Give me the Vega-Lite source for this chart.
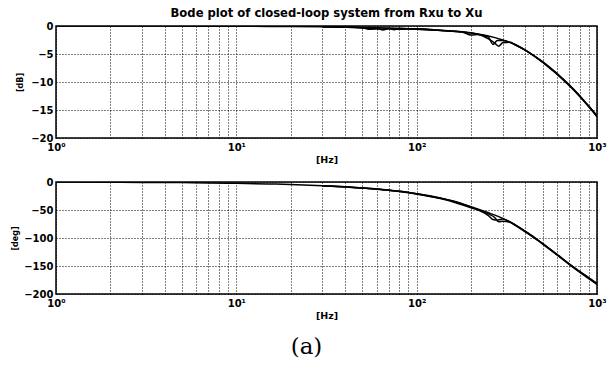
{
  "$schema": "https://vega.github.io/schema/vega-lite/v6.json",
  "background": "white",
  "padding": {"left": 10, "top": 7, "right": 8, "bottom": 2},
  "config": {
    "font": "DejaVu Sans",
    "view": {"stroke": "black", "strokeWidth": 1.5},
    "axis": {
      "labelFont": "DejaVu Sans", "labelFontSize": 10, "labelFontWeight": "bold", "labelColor": "black",
      "titleFont": "DejaVu Sans", "titleFontSize": 9, "titleFontWeight": "bold", "titleColor": "black",
      "grid": true, "gridColor": "black", "gridDash": [1, 2], "gridWidth": 1, "gridOpacity": 1,
      "ticks": false, "domain": false, "labelFlush": false, "labelOverlap": false
    },
    "title": {"font": "DejaVu Sans", "color": "black"}
  },
  "datasets": {
    "bode": [
      {"f": 1, "run": "A", "db": 0, "deg": -0.2},
      {"f": 2, "run": "A", "db": 0, "deg": -0.5},
      {"f": 3, "run": "A", "db": 0, "deg": -0.7},
      {"f": 5, "run": "A", "db": -0.02, "deg": -1.1},
      {"f": 7, "run": "A", "db": -0.03, "deg": -1.6},
      {"f": 10, "run": "A", "db": -0.05, "deg": -2.3},
      {"f": 15, "run": "A", "db": -0.08, "deg": -3.4},
      {"f": 20, "run": "A", "db": -0.1, "deg": -4.5},
      {"f": 30, "run": "A", "db": -0.15, "deg": -6.5},
      {"f": 40, "run": "A", "db": -0.2, "deg": -8.5},
      {"f": 50, "run": "A", "db": -0.25, "deg": -10.5},
      {"f": 60, "run": "A", "db": -0.3, "deg": -12.5},
      {"f": 70, "run": "A", "db": -0.35, "deg": -14.5},
      {"f": 80, "run": "A", "db": -0.42, "deg": -16.5},
      {"f": 100, "run": "A", "db": -0.55, "deg": -21},
      {"f": 120, "run": "A", "db": -0.65, "deg": -25},
      {"f": 150, "run": "A", "db": -0.85, "deg": -32},
      {"f": 200, "run": "A", "db": -1.25, "deg": -44},
      {"f": 250, "run": "A", "db": -1.8, "deg": -55},
      {"f": 300, "run": "A", "db": -2.5, "deg": -65},
      {"f": 350, "run": "A", "db": -3.3, "deg": -76},
      {"f": 400, "run": "A", "db": -4.3, "deg": -88},
      {"f": 450, "run": "A", "db": -5.4, "deg": -99},
      {"f": 500, "run": "A", "db": -6.4, "deg": -110},
      {"f": 600, "run": "A", "db": -8.5, "deg": -129},
      {"f": 700, "run": "A", "db": -10.5, "deg": -146},
      {"f": 800, "run": "A", "db": -12.4, "deg": -160},
      {"f": 900, "run": "A", "db": -14.3, "deg": -171},
      {"f": 1000, "run": "A", "db": -16.1, "deg": -182},
      {"f": 30, "run": "B", "db": -0.15, "deg": -6.5},
      {"f": 40, "run": "B", "db": -0.2, "deg": -8.5},
      {"f": 50, "run": "B", "db": -0.3, "deg": -10.5},
      {"f": 55, "run": "B", "db": -0.6, "deg": -11.5},
      {"f": 60, "run": "B", "db": -0.4, "deg": -12.5},
      {"f": 65, "run": "B", "db": -0.7, "deg": -13.8},
      {"f": 70, "run": "B", "db": -0.45, "deg": -14.5},
      {"f": 75, "run": "B", "db": -0.65, "deg": -15.8},
      {"f": 80, "run": "B", "db": -0.45, "deg": -16.5},
      {"f": 100, "run": "B", "db": -0.6, "deg": -21},
      {"f": 130, "run": "B", "db": -0.75, "deg": -28},
      {"f": 150, "run": "B", "db": -0.9, "deg": -32},
      {"f": 180, "run": "B", "db": -1.1, "deg": -39},
      {"f": 200, "run": "B", "db": -1.6, "deg": -45},
      {"f": 220, "run": "B", "db": -1.5, "deg": -50},
      {"f": 250, "run": "B", "db": -2.0, "deg": -60},
      {"f": 265, "run": "B", "db": -3.3, "deg": -67},
      {"f": 280, "run": "B", "db": -2.6, "deg": -68},
      {"f": 300, "run": "B", "db": -2.6, "deg": -66},
      {"f": 350, "run": "B", "db": -3.3, "deg": -77},
      {"f": 400, "run": "B", "db": -4.3, "deg": -89},
      {"f": 500, "run": "B", "db": -6.4, "deg": -110},
      {"f": 700, "run": "B", "db": -10.5, "deg": -147},
      {"f": 1000, "run": "B", "db": -16.2, "deg": -183},
      {"f": 30, "run": "C", "db": -0.15, "deg": -6.5},
      {"f": 50, "run": "C", "db": -0.35, "deg": -10.8},
      {"f": 60, "run": "C", "db": -0.55, "deg": -12.8},
      {"f": 70, "run": "C", "db": -0.5, "deg": -14.8},
      {"f": 80, "run": "C", "db": -0.6, "deg": -16.8},
      {"f": 100, "run": "C", "db": -0.5, "deg": -21.5},
      {"f": 150, "run": "C", "db": -0.9, "deg": -33},
      {"f": 200, "run": "C", "db": -1.2, "deg": -46},
      {"f": 230, "run": "C", "db": -1.7, "deg": -52},
      {"f": 250, "run": "C", "db": -2.3, "deg": -57},
      {"f": 270, "run": "C", "db": -3.0, "deg": -63},
      {"f": 285, "run": "C", "db": -3.6, "deg": -71},
      {"f": 300, "run": "C", "db": -3.0, "deg": -70},
      {"f": 330, "run": "C", "db": -2.9, "deg": -72},
      {"f": 350, "run": "C", "db": -3.3, "deg": -76},
      {"f": 400, "run": "C", "db": -4.3, "deg": -88},
      {"f": 500, "run": "C", "db": -6.5, "deg": -111},
      {"f": 700, "run": "C", "db": -10.6, "deg": -146},
      {"f": 1000, "run": "C", "db": -16.0, "deg": -181}
    ]
  },
  "bounds": "flush",
  "spacing": 44,
  "vconcat": [
    {
      "width": 541, "height": 112,
      "data": {"name": "bode"},
      "title": {"text": "Bode plot of closed-loop system from Rxu to Xu", "fontSize": 11.6, "fontWeight": "bold", "offset": 1},
      "mark": {"type": "line", "color": "black", "strokeWidth": 1.5, "interpolate": "monotone", "clip": true},
      "encoding": {
        "x": {"field": "f", "type": "quantitative", "scale": {"type": "log", "domain": [1, 1000], "nice": false},
          "axis": {"title": "[Hz]", "titleFontSize": 9.5, "titlePadding": 2, "labelPadding": 4,
            "values": [1,2,3,4,5,6,7,8,9,10,20,30,40,50,60,70,80,90,100,200,300,400,500,600,700,800,900,1000],
            "labelExpr": "datum.value == 1 ? '10⁰' : datum.value == 10 ? '10¹' : datum.value == 100 ? '10²' : datum.value == 1000 ? '10³' : ''"}},
        "y": {"field": "db", "type": "quantitative", "scale": {"domain": [-20, 0], "nice": false},
          "axis": {"title": "[dB]", "titleFontSize": 8, "values": [0, -5, -10, -15, -20], "labelPadding": 3, "titlePadding": 6}},
        "detail": {"field": "run"}
      }
    },
    {
      "width": 541, "height": 112,
      "data": {"name": "bode"},
      "title": {"text": "(a)", "orient": "bottom", "font": "DejaVu Serif", "fontSize": 23, "fontWeight": "normal", "offset": 16, "dx": -20},
      "mark": {"type": "line", "color": "black", "strokeWidth": 1.5, "interpolate": "monotone", "clip": true},
      "encoding": {
        "x": {"field": "f", "type": "quantitative", "scale": {"type": "log", "domain": [1, 1000], "nice": false},
          "axis": {"title": "[Hz]", "titleFontSize": 9.5, "titlePadding": 2, "labelPadding": 4,
            "values": [1,2,3,4,5,6,7,8,9,10,20,30,40,50,60,70,80,90,100,200,300,400,500,600,700,800,900,1000],
            "labelExpr": "datum.value == 1 ? '10⁰' : datum.value == 10 ? '10¹' : datum.value == 100 ? '10²' : datum.value == 1000 ? '10³' : ''"}},
        "y": {"field": "deg", "type": "quantitative", "scale": {"domain": [-200, 0], "nice": false},
          "axis": {"title": "[deg]", "titleFontSize": 8, "values": [0, -50, -100, -150, -200], "labelPadding": 3, "titlePadding": 4}},
        "detail": {"field": "run"}
      }
    }
  ]
}
